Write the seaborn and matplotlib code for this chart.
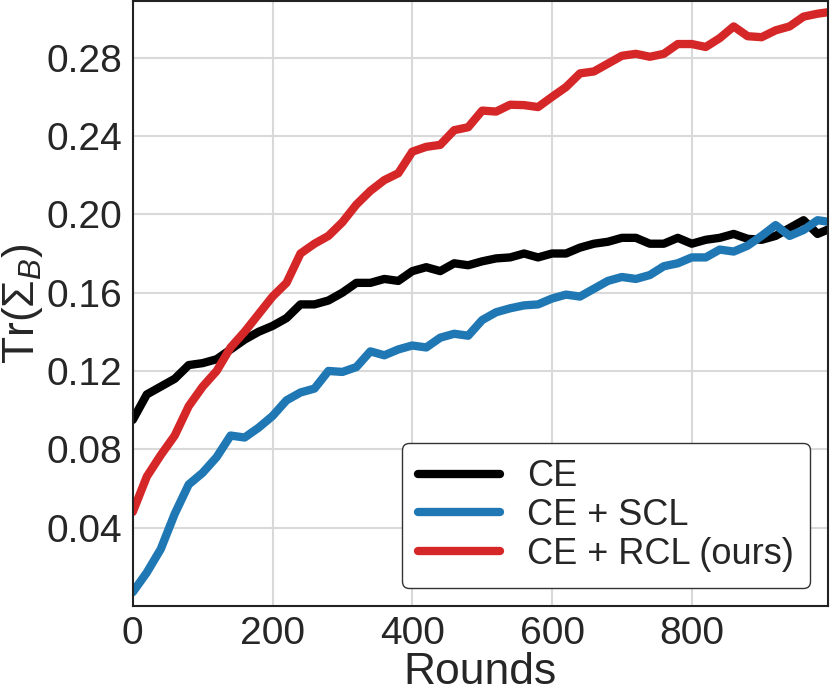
import numpy as np
import pandas as pd
import matplotlib
matplotlib.use('Agg')
import matplotlib.pyplot as plt
import seaborn as sns

# values, one point every 20 rounds
rounds = list(range(0, 1001, 20))

ce = [0.095, 0.108, 0.112, 0.116, 0.123, 0.124, 0.126, 0.131, 0.136, 0.140,
      0.143, 0.147, 0.154, 0.154, 0.156, 0.160, 0.165, 0.165, 0.167, 0.166,
      0.171, 0.173, 0.171, 0.175, 0.174, 0.176, 0.1775, 0.178, 0.180, 0.178,
      0.180, 0.180, 0.183, 0.185, 0.186, 0.188, 0.188, 0.185, 0.185, 0.188,
      0.185, 0.187, 0.188, 0.190, 0.1875, 0.187, 0.189, 0.193, 0.197, 0.190,
      0.193]

ce_scl = [0.007, 0.017, 0.029, 0.047, 0.062, 0.068, 0.076, 0.087, 0.086, 0.091,
          0.097, 0.105, 0.109, 0.111, 0.120, 0.1195, 0.122, 0.130, 0.128, 0.131,
          0.133, 0.132, 0.137, 0.139, 0.138, 0.146, 0.150, 0.152, 0.1535, 0.154,
          0.157, 0.159, 0.158, 0.162, 0.166, 0.168, 0.167, 0.169, 0.1735, 0.175,
          0.178, 0.178, 0.182, 0.181, 0.184, 0.189, 0.1945, 0.189, 0.192, 0.197,
          0.196]

ce_rcl = [0.048, 0.066, 0.077, 0.087, 0.102, 0.112, 0.120, 0.132, 0.140, 0.149,
          0.158, 0.165, 0.180, 0.185, 0.189, 0.196, 0.205, 0.212, 0.2175, 0.221,
          0.232, 0.2345, 0.2355, 0.243, 0.2445, 0.253, 0.2525, 0.256, 0.2558, 0.2548,
          0.260, 0.265, 0.272, 0.273, 0.277, 0.281, 0.282, 0.2805, 0.282, 0.287,
          0.287, 0.2855, 0.290, 0.296, 0.291, 0.2905, 0.294, 0.296, 0.301, 0.3025,
          0.3035]

labels = ['CE', 'CE + SCL', 'CE + RCL (ours)']
colors = ['black', '#1f77b4', '#d62728']

df = pd.DataFrame({
    'round': rounds * 3,
    'value': ce + ce_scl + ce_rcl,
    'method': [labels[0]] * len(rounds) + [labels[1]] * len(rounds) + [labels[2]] * len(rounds),
})

sns.set_style('whitegrid')
plt.rcParams['font.family'] = ['Liberation Sans', 'DejaVu Sans']
plt.rcParams['mathtext.fontset'] = 'custom'
plt.rcParams['mathtext.rm'] = 'Liberation Sans'
plt.rcParams['mathtext.it'] = 'Liberation Sans:italic'

fig = plt.figure(figsize=(8.3, 6.98), dpi=100)
ax = fig.add_axes([0.160, 0.132, 0.8376, 0.8666])

sns.lineplot(data=df, x='round', y='value', hue='method', palette=colors,
             linewidth=6, ax=ax, solid_capstyle='round')

ax.set_xlim(0, 995)
ax.set_ylim(0, 0.309)
ax.set_xticks([0, 200, 400, 600, 800])
ax.set_yticks([0.04, 0.08, 0.12, 0.16, 0.20, 0.24, 0.28])
ax.set_yticklabels(['0.04', '0.08', '0.12', '0.16', '0.20', '0.24', '0.28'])
ax.tick_params(labelsize=28, colors='#262626', pad=4)
ax.grid(color='#d9d9d9', linewidth=1.5)

for s in ax.spines.values():
    s.set_color('#222222')
    s.set_linewidth(1.5)

ax.set_xlabel('Rounds', fontsize=32, color='#262626', labelpad=0)
ax.set_ylabel(r'Tr($\Sigma_B$)', fontsize=32, color='#262626', labelpad=1)

leg = ax.legend(loc='lower right', fontsize=26, frameon=True, framealpha=1,
                edgecolor='#333333', fancybox=True, handlelength=2.25,
                handletextpad=0.75, labelspacing=0.1, borderaxespad=0.5,
                borderpad=0.45)
for line in leg.get_lines():
    line.set_linewidth(6)
    line.set_solid_capstyle('round')

fig.savefig('out.png', dpi=100)
